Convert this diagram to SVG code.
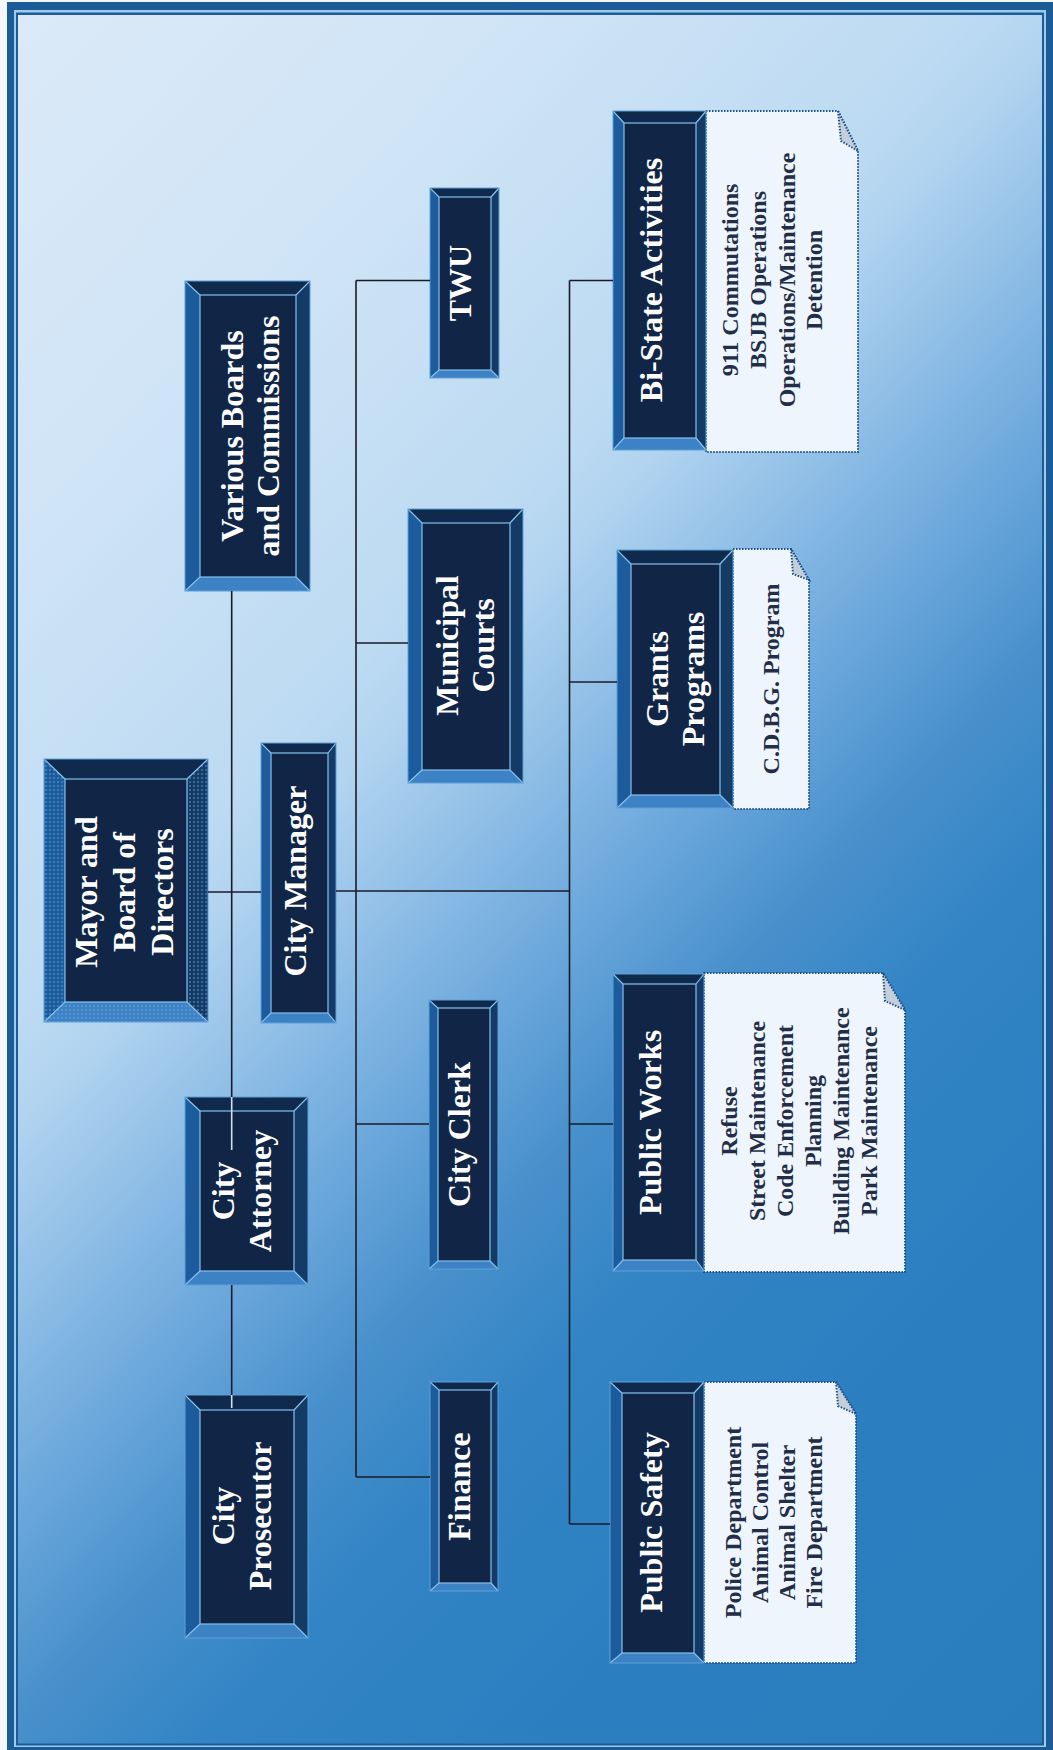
<svg xmlns="http://www.w3.org/2000/svg" width="1053" height="1750" viewBox="0 0 1053 1750">
<defs>
<linearGradient id="bg" gradientUnits="userSpaceOnUse" x1="0" y1="0" x2="1419" y2="1352">
<stop offset="0" stop-color="#dceaf8"/>
<stop offset="0.204" stop-color="#cfe4f6"/>
<stop offset="0.367" stop-color="#bcdaf2"/>
<stop offset="0.40" stop-color="#b2d4f0"/>
<stop offset="0.536" stop-color="#6ca8dc"/>
<stop offset="0.612" stop-color="#4890cc"/>
<stop offset="0.689" stop-color="#3284c4"/>
<stop offset="0.816" stop-color="#2b7fc0"/>
<stop offset="1" stop-color="#2a7dbd"/>
</linearGradient>
<pattern id="dots" width="4" height="4" patternUnits="userSpaceOnUse">
<circle cx="2" cy="2" r="0.9" fill="#7ab2e2" fill-opacity="0.55"/>
</pattern>
<style>
.bt{fill:#0f2a4d}
.bb{fill:#3d82c4}
.bl{fill:#1c5b9c}
.br{fill:#143a66}
.bi{fill:#112646;stroke:#86c0ec;stroke-width:1.2}
.be{fill:none;stroke:#86c0ec;stroke-width:1.2}
.bo{fill:none;stroke:#5f9fd8;stroke-width:1}
.dt{fill:url(#dots)}
.lbl{font-family:"Liberation Serif","Times New Roman",serif;font-weight:bold;font-size:32px;fill:#ffffff;text-anchor:middle}
.nt{font-family:"Liberation Serif","Times New Roman",serif;font-weight:bold;font-size:24px;fill:#222d47;text-anchor:middle}
.note{fill:#eef5fc;stroke:#1d4f8a;stroke-width:2;stroke-dasharray:1.5 1.5}
.fold{fill:#c5cfd9;stroke:#1d4f8a;stroke-width:2;stroke-dasharray:1.5 1.5}
.conn{fill:none;stroke:#1b1b28;stroke-width:1.6}
.connl{fill:none;stroke:#cfe0f0;stroke-width:1.6}
</style>
</defs>

<g id="frame">
<rect x="0" y="0" width="1053" height="1750" fill="#f3f7fb"/>
<rect x="7" y="2" width="1046" height="1748" fill="#1b5b96"/>
<rect x="14" y="10" width="1032" height="1737" fill="#9fcaef"/>
<rect x="16" y="12.5" width="1028" height="1733" fill="#1d5c95"/>
<rect x="18" y="15" width="1024" height="1728.5" fill="url(#bg)"/>
</g>

<g id="various-boards">
<polygon class="bt" points="185,281 310,281 296,295 200,295"/>
<polygon class="bb" points="185,591 310,591 296,577 200,577"/>
<polygon class="bl" points="185,281 200,295 200,577 185,591"/>
<polygon class="br" points="310,281 296,295 296,577 310,591"/>
<rect class="bi" x="200" y="295" width="96" height="282"/>
<path class="be" d="M185,281L200,295M310,281L296,295M310,591L296,577M185,591L200,577"/>
<rect class="bo" x="185" y="281" width="125" height="310"/>
<text class="lbl" transform="translate(243,436) rotate(-90)">Various Boards</text>
<text class="lbl" transform="translate(279,436) rotate(-90)">and Commissions</text>
</g>

<g id="twu">
<polygon class="bt" points="430,188 499,188 491,197 439,197"/>
<polygon class="bb" points="430,378 499,378 491,370 439,370"/>
<polygon class="bl" points="430,188 439,197 439,370 430,378"/>
<polygon class="br" points="499,188 491,197 491,370 499,378"/>
<rect class="bi" x="439" y="197" width="52" height="173"/>
<path class="be" d="M430,188L439,197M499,188L491,197M499,378L491,370M430,378L439,370"/>
<rect class="bo" x="430" y="188" width="69" height="190"/>
<text class="lbl" transform="translate(471,283) rotate(-90)">TWU</text>
</g>

<g id="bi-state">
<path class="note" d="M706,111H838L858,151V452H706Z"/>
<path class="fold" d="M838,111L841,141L858,151Z"/>
<polygon class="bt" points="613,111 706,111 696,123 624,123"/>
<polygon class="bb" points="613,450 706,450 696,438 624,438"/>
<polygon class="bl" points="613,111 624,123 624,438 613,450"/>
<polygon class="br" points="706,111 696,123 696,438 706,450"/>
<rect class="bi" x="624" y="123" width="72" height="315"/>
<path class="be" d="M613,111L624,123M706,111L696,123M706,450L696,438M613,450L624,438"/>
<rect class="bo" x="613" y="111" width="93" height="339"/>
<text class="lbl" transform="translate(662,280) rotate(-90)">Bi-State Activities</text>
<text class="nt" transform="translate(738,280) rotate(-90)">911 Commutations</text>
<text class="nt" transform="translate(766,280) rotate(-90)">BSJB Operations</text>
<text class="nt" transform="translate(795,280) rotate(-90)">Operations/Maintenance</text>
<text class="nt" transform="translate(822,280) rotate(-90)">Detention</text>
</g>

<g id="municipal-courts">
<polygon class="bt" points="408,509 523,509 510,523 422,523"/>
<polygon class="bb" points="408,783 523,783 510,770 422,770"/>
<polygon class="bl" points="408,509 422,523 422,770 408,783"/>
<polygon class="br" points="523,509 510,523 510,770 523,783"/>
<rect class="bi" x="422" y="523" width="88" height="247"/>
<path class="be" d="M408,509L422,523M523,509L510,523M523,783L510,770M408,783L422,770"/>
<rect class="bo" x="408" y="509" width="115" height="274"/>
<text class="lbl" transform="translate(458,645.5) rotate(-90)">Municipal</text>
<text class="lbl" transform="translate(494,645.5) rotate(-90)">Courts</text>
</g>

<g id="grants-programs">
<path class="note" d="M733,549H791L809,580V809H733Z"/>
<path class="fold" d="M791,549L793,574L809,580Z"/>
<polygon class="bt" points="617,550 733,550 720,564 631,564"/>
<polygon class="bb" points="617,808 733,808 720,795 631,795"/>
<polygon class="bl" points="617,550 631,564 631,795 617,808"/>
<polygon class="br" points="733,550 720,564 720,795 733,808"/>
<rect class="bi" x="631" y="564" width="89" height="231"/>
<path class="be" d="M617,550L631,564M733,550L720,564M733,808L720,795M617,808L631,795"/>
<rect class="bo" x="617" y="550" width="116" height="258"/>
<text class="lbl" transform="translate(668,679) rotate(-90)">Grants</text>
<text class="lbl" transform="translate(704,679) rotate(-90)">Programs</text>
<text class="nt" transform="translate(779,679) rotate(-90)">C.D.B.G. Program</text>
</g>

<g id="mayor">
<polygon class="bt" points="44,759 208,759 187,779 65,779"/>
<polygon class="bb" points="44,1022 208,1022 187,1002 65,1002"/>
<polygon class="bl" points="44,759 65,779 65,1002 44,1022"/>
<polygon class="br" points="208,759 187,779 187,1002 208,1022"/>
<polygon class="dt" points="44,1022 208,1022 187,1002 65,1002"/>
<polygon class="dt" points="44,759 65,779 65,1002 44,1022"/>
<polygon class="dt" points="208,759 187,779 187,1002 208,1022"/>
<rect class="bi" x="65" y="779" width="122" height="223"/>
<path class="be" d="M44,759L65,779M208,759L187,779M208,1022L187,1002M44,1022L65,1002"/>
<rect class="bo" x="44" y="759" width="164" height="263"/>
<text class="lbl" transform="translate(97,892) rotate(-90)">Mayor and</text>
<text class="lbl" transform="translate(135,892) rotate(-90)">Board of</text>
<text class="lbl" transform="translate(173,892) rotate(-90)">Directors</text>
</g>

<g id="city-manager">
<polygon class="bt" points="261,743 336,743 328,753 271,753"/>
<polygon class="bb" points="261,1023 336,1023 328,1013 271,1013"/>
<polygon class="bl" points="261,743 271,753 271,1013 261,1023"/>
<polygon class="br" points="336,743 328,753 328,1013 336,1023"/>
<rect class="bi" x="271" y="753" width="57" height="260"/>
<path class="be" d="M261,743L271,753M336,743L328,753M336,1023L328,1013M261,1023L271,1013"/>
<rect class="bo" x="261" y="743" width="75" height="280"/>
<text class="lbl" transform="translate(306,881) rotate(-90)">City Manager</text>
</g>

<g id="city-attorney">
<polygon class="bt" points="185,1097 308,1097 294,1111 200,1111"/>
<polygon class="bb" points="185,1285 308,1285 294,1271 200,1271"/>
<polygon class="bl" points="185,1097 200,1111 200,1271 185,1285"/>
<polygon class="br" points="308,1097 294,1111 294,1271 308,1285"/>
<rect class="bi" x="200" y="1111" width="94" height="160"/>
<path class="be" d="M185,1097L200,1111M308,1097L294,1111M308,1285L294,1271M185,1285L200,1271"/>
<rect class="bo" x="185" y="1097" width="123" height="188"/>
<text class="lbl" transform="translate(234,1191) rotate(-90)">City</text>
<text class="lbl" transform="translate(271,1191) rotate(-90)">Attorney</text>
</g>

<g id="city-clerk">
<polygon class="bt" points="429,1000 498,1000 490,1008 438,1008"/>
<polygon class="bb" points="429,1269 498,1269 490,1261 438,1261"/>
<polygon class="bl" points="429,1000 438,1008 438,1261 429,1269"/>
<polygon class="br" points="498,1000 490,1008 490,1261 498,1269"/>
<rect class="bi" x="438" y="1008" width="52" height="253"/>
<path class="be" d="M429,1000L438,1008M498,1000L490,1008M498,1269L490,1261M429,1269L438,1261"/>
<rect class="bo" x="429" y="1000" width="69" height="269"/>
<text class="lbl" transform="translate(470,1134.5) rotate(-90)">City Clerk</text>
</g>

<g id="public-works">
<path class="note" d="M704,973H883L905,1010V1272H704Z"/>
<path class="fold" d="M883,973L885,1001L905,1010Z"/>
<polygon class="bt" points="613,974 704,974 696,984 623,984"/>
<polygon class="bb" points="613,1271 704,1271 696,1260 623,1260"/>
<polygon class="bl" points="613,974 623,984 623,1260 613,1271"/>
<polygon class="br" points="704,974 696,984 696,1260 704,1271"/>
<rect class="bi" x="623" y="984" width="73" height="276"/>
<path class="be" d="M613,974L623,984M704,974L696,984M704,1271L696,1260M613,1271L623,1260"/>
<rect class="bo" x="613" y="974" width="91" height="297"/>
<text class="lbl" transform="translate(661,1122.5) rotate(-90)">Public Works</text>
<text class="nt" transform="translate(737,1121) rotate(-90)">Refuse</text>
<text class="nt" transform="translate(765,1121) rotate(-90)">Street Maintenance</text>
<text class="nt" transform="translate(793,1121) rotate(-90)">Code Enforcement</text>
<text class="nt" transform="translate(821,1121) rotate(-90)">Planning</text>
<text class="nt" transform="translate(849,1121) rotate(-90)">Building Maintenance</text>
<text class="nt" transform="translate(877,1121) rotate(-90)">Park Maintenance</text>
</g>

<g id="city-prosecutor">
<polygon class="bt" points="185,1395 308,1395 294,1410 200,1410"/>
<polygon class="bb" points="185,1638 308,1638 294,1624 200,1624"/>
<polygon class="bl" points="185,1395 200,1410 200,1624 185,1638"/>
<polygon class="br" points="308,1395 294,1410 294,1624 308,1638"/>
<rect class="bi" x="200" y="1410" width="94" height="214"/>
<path class="be" d="M185,1395L200,1410M308,1395L294,1410M308,1638L294,1624M185,1638L200,1624"/>
<rect class="bo" x="185" y="1395" width="123" height="243"/>
<text class="lbl" transform="translate(234,1516) rotate(-90)">City</text>
<text class="lbl" transform="translate(271,1516) rotate(-90)">Prosecutor</text>
</g>

<g id="finance">
<polygon class="bt" points="430,1382 498,1382 491,1390 439,1390"/>
<polygon class="bb" points="430,1591 498,1591 491,1583 439,1583"/>
<polygon class="bl" points="430,1382 439,1390 439,1583 430,1591"/>
<polygon class="br" points="498,1382 491,1390 491,1583 498,1591"/>
<rect class="bi" x="439" y="1390" width="52" height="193"/>
<path class="be" d="M430,1382L439,1390M498,1382L491,1390M498,1591L491,1583M430,1591L439,1583"/>
<rect class="bo" x="430" y="1382" width="68" height="209"/>
<text class="lbl" transform="translate(470,1486.5) rotate(-90)">Finance</text>
</g>

<g id="public-safety">
<path class="note" d="M704,1382H836L856,1414V1663H704Z"/>
<path class="fold" d="M836,1382L838,1406L856,1414Z"/>
<polygon class="bt" points="610,1382 704,1382 694,1393 622,1393"/>
<polygon class="bb" points="610,1663 704,1663 694,1653 622,1653"/>
<polygon class="bl" points="610,1382 622,1393 622,1653 610,1663"/>
<polygon class="br" points="704,1382 694,1393 694,1653 704,1663"/>
<rect class="bi" x="622" y="1393" width="72" height="260"/>
<path class="be" d="M610,1382L622,1393M704,1382L694,1393M704,1663L694,1653M610,1663L622,1653"/>
<rect class="bo" x="610" y="1382" width="94" height="281"/>
<text class="lbl" transform="translate(662,1522.5) rotate(-90)">Public Safety</text>
<text class="nt" transform="translate(741,1522.5) rotate(-90)">Police Department</text>
<text class="nt" transform="translate(768,1522.5) rotate(-90)">Animal Control</text>
<text class="nt" transform="translate(795,1522.5) rotate(-90)">Animal Shelter</text>
<text class="nt" transform="translate(822,1522.5) rotate(-90)">Fire Department</text>
</g>

<g id="connectors">
<path class="conn" d="M231.7,591V1097"/>
<path class="conn" d="M231.7,1285V1395"/>
<path class="connl" d="M231.7,1097V1150"/>
<path class="connl" d="M231.7,1395V1408"/>
<path class="conn" d="M208,892H261"/>
<path class="conn" d="M336,891H569.5"/>
<path class="conn" d="M356,280.5V1477"/>
<path class="conn" d="M356,280.5H430"/>
<path class="conn" d="M356,643H408"/>
<path class="conn" d="M356,1124H429"/>
<path class="conn" d="M356,1477H430"/>
<path class="conn" d="M569.5,280.5V1524"/>
<path class="conn" d="M569.5,280.5H613"/>
<path class="conn" d="M569.5,682H617"/>
<path class="conn" d="M569.5,1124H613"/>
<path class="conn" d="M569.5,1524H610"/>
</g>
</svg>
